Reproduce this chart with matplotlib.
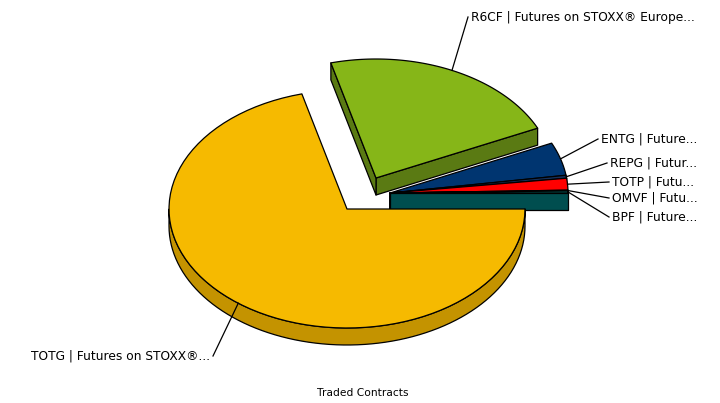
import numpy as np
import matplotlib.pyplot as plt
from matplotlib.patches import Polygon

# slices in drawing order, counter-clockwise from 3 o'clock
codes = ["BPF", "OMVF", "TOTP", "REPG", "ENTG", "R6CF", "TOTG"]
names = ["Future...", "Futu...", "Futu...", "Futur...", "Future...",
         "Futures on STOXX\u00ae Europe...", "Futures on STOXX\u00ae..."]
shares = [0.28, 0.10, 1.60, 0.40, 4.50, 22.20, 70.92]
title = "Traded Contracts"

colors = ["#006361", "#E8F0EE", "#FF0000", "#14305C", "#003570", "#86B618", "#F6BA00"]
side_colors = ["#004E4F", "#B8C4C2", "#C00000", "#0E2445", "#002650", "#5A7A13", "#C49300"]

# geometry of the 3d pie, in pixels
cx, cy = 347, 209
rx, ry, depth = 178, 119, 17
explode = [(43, -16)] * 5 + [(29, -31), (0, 0)]
label_pos = [(612, 217, "left"), (612, 198, "left"), (612, 182, "left"),
             (610, 163, "left"), (601, 139, "left"), (471, 17, "left"),
             (210, 356, "right")]


def arc(x0, y0, a0, a1, n=80):
    t = np.radians(np.linspace(a0, a1, n))
    return np.column_stack([x0 + rx * np.cos(t), y0 - ry * np.sin(t)])


fig = plt.figure(figsize=(7.2, 4.03), dpi=100)
ax = fig.add_axes([0, 0, 1, 1])
ax.set_xlim(0, 720)
ax.set_ylim(403, 0)
ax.axis("off")

total = sum(shares)
bounds = np.concatenate([[0], np.cumsum(shares) / total * 360])
slices = []
for i in range(len(shares)):
    a0, a1 = bounds[i], bounds[i + 1]
    mid = (a0 + a1) / 2
    slices.append((np.sin(np.radians(mid)), i, a0, a1, mid))

# back to front
slices.sort(key=lambda s: -s[0])
z = 1
for _, i, a0, a1, mid in slices:
    x0, y0 = cx + explode[i][0], cy + explode[i][1]
    top = colors[i]
    side = side_colors[i]
    kw = dict(edgecolor="black", linewidth=0.9, joinstyle="round")
    # radial faces
    for ang, vis in ((a0, np.cos(np.radians(a0)) > 0), (a1, np.cos(np.radians(a1)) < 0)):
        if vis:
            px = x0 + rx * np.cos(np.radians(ang))
            py = y0 - ry * np.sin(np.radians(ang))
            pts = [(x0, y0), (px, py), (px, py + depth), (x0, y0 + depth)]
            ax.add_patch(Polygon(pts, closed=True, facecolor=side, zorder=z, **kw))
    # outer curved side, front half only
    lo, hi = max(a0, 180), min(a1, 360)
    if hi > lo:
        p = arc(x0, y0, lo, hi)
        q = p[::-1] + [0, depth]
        ax.add_patch(Polygon(np.vstack([p, q]), closed=True, facecolor=side, zorder=z, **kw))
    # top
    pts = np.vstack([[x0, y0], arc(x0, y0, a0, a1)])
    ax.add_patch(Polygon(pts, closed=True, facecolor=top, zorder=z + 0.5, **kw))
    z += 1

# labels with leader lines
for i, (code, name) in enumerate(zip(codes, names)):
    mid = (bounds[i] + bounds[i + 1]) / 2
    x0, y0 = cx + explode[i][0], cy + explode[i][1]
    ax_ = x0 + rx * np.cos(np.radians(mid))
    ay_ = y0 - ry * np.sin(np.radians(mid))
    tx, ty, ha = label_pos[i]
    ex = tx - 3 if ha == "left" else tx + 3
    ax.plot([ax_, ex], [ay_, ty], color="black", linewidth=0.9, zorder=20)
    ax.text(tx, ty, f"{code} | {name}", ha=ha, va="center", fontsize=8.8,
            family="DejaVu Sans", color="black", zorder=21)

ax.text(363, 393, title, ha="center", va="center", fontsize=7.7, family="DejaVu Sans")

fig.savefig("out.png", dpi=100, facecolor="white")
